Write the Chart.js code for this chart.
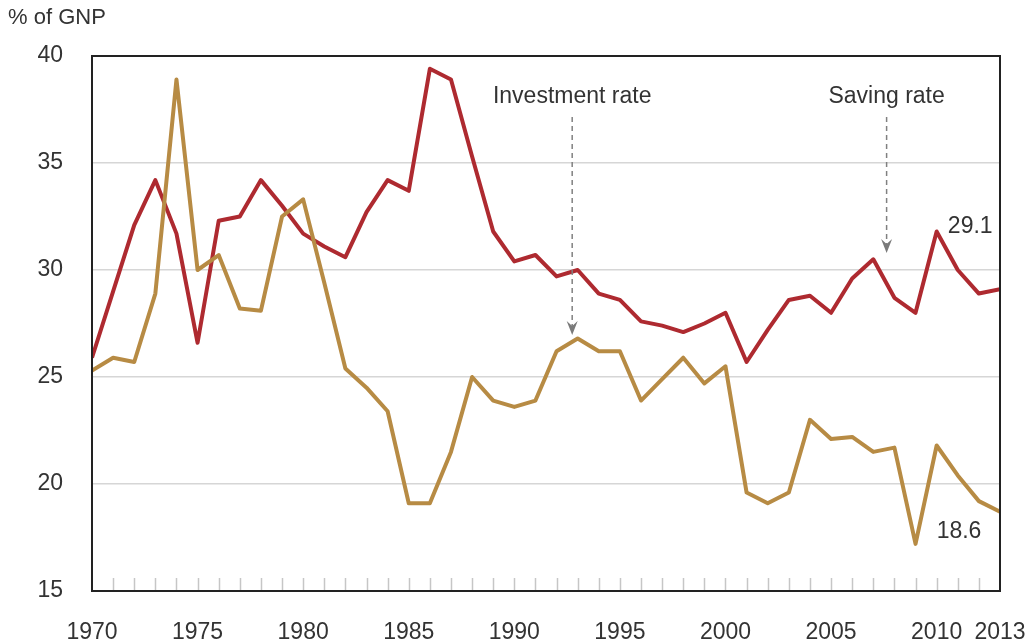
<!DOCTYPE html>
<html>
<head>
<meta charset="utf-8">
<script src="https://cdn.jsdelivr.net/npm/chart.js@4.4.1/dist/chart.umd.min.js"></script>
<style>
  html, body { margin: 0; padding: 0; background: #fff; }
  #wrap { width: 1029px; height: 643px; position: relative; }
</style>
</head>
<body>
<div id="wrap"><canvas id="chart" width="1029" height="643"></canvas></div>
<script>
const years = [1970, 1971, 1972, 1973, 1974, 1975, 1976, 1977, 1978, 1979,
               1980, 1981, 1982, 1983, 1984, 1985, 1986, 1987, 1988, 1989,
               1990, 1991, 1992, 1993, 1994, 1995, 1996, 1997, 1998, 1999,
               2000, 2001, 2002, 2003, 2004, 2005, 2006, 2007, 2008, 2009,
               2010, 2011, 2012, 2013];

// saving rate (red)
const savingRate = [25.9, 29.0, 32.1, 34.2, 31.7, 26.6, 32.3, 32.5, 34.2, 33.0,
                    31.7, 31.1, 30.6, 32.7, 34.2, 33.7, 39.4, 38.9, 35.3, 31.8,
                    30.4, 30.7, 29.7, 30.0, 28.9, 28.6, 27.6, 27.4, 27.1, 27.5,
                    28.0, 25.7, 27.2, 28.6, 28.8, 28.0, 29.6, 30.5, 28.7, 28.0,
                    31.8, 30.0, 28.9, 29.1];

// investment rate (gold)
const investmentRate = [25.3, 25.9, 25.7, 28.9, 38.9, 30.0, 30.7, 28.2, 28.1, 32.5,
                        33.3, 29.4, 25.4, 24.5, 23.4, 19.1, 19.1, 21.5, 25.0, 23.9,
                        23.6, 23.9, 26.2, 26.8, 26.2, 26.2, 23.9, 24.9, 25.9, 24.7,
                        25.5, 19.6, 19.1, 19.6, 23.0, 22.1, 22.2, 21.5, 21.7, 17.2,
                        21.8, 20.4, 19.2, 18.7];

const xTickLabels = [1970, 1975, 1980, 1985, 1990, 1995, 2000, 2005, 2010, 2013];
const yTickLabels = [15, 20, 25, 30, 35, 40];

// callouts, placed in data units
const callouts = [
  { text: 'Investment rate', x: 1992.74, textY: 37.8, fromY: 37.15, toY: 26.96 },
  { text: 'Saving rate', x: 2007.63, textY: 37.8, fromY: 37.15, toY: 30.8 }
];
const endLabels = [
  { text: '29.1', x: 2010.53, y: 31.73 },
  { text: '18.6', x: 2010.0, y: 17.48 }
];

const FONT = "'Liberation Sans', Arial, sans-serif";
const TEXT = '#333';

const toPoints = vals => vals.map((v, i) => ({ x: years[i], y: v }));

const decorations = {
  id: 'decorations',
  beforeDatasetsDraw(chart) {
    const { ctx, chartArea: a, scales: { x } } = chart;
    // small year ticks along the bottom
    ctx.save();
    ctx.strokeStyle = '#c6c6c6';
    ctx.lineWidth = 1.5;
    years.slice(1, -1).forEach(yr => {
      const px = Math.round(x.getPixelForValue(yr)) + 0.5;
      ctx.beginPath();
      ctx.moveTo(px, a.bottom);
      ctx.lineTo(px, a.bottom - 13);
      ctx.stroke();
    });
    ctx.restore();
  },
  afterDatasetsDraw(chart) {
    const { ctx, chartArea: a, scales: { x, y } } = chart;
    ctx.save();
    // frame
    ctx.strokeStyle = '#222';
    ctx.lineWidth = 2;
    ctx.strokeRect(a.left, a.top, a.right - a.left, a.bottom - a.top);

    ctx.font = '23px ' + FONT;
    ctx.fillStyle = TEXT;
    ctx.textBaseline = 'alphabetic';

    callouts.forEach(c => {
      const px = x.getPixelForValue(c.x);
      ctx.textAlign = 'center';
      ctx.fillStyle = TEXT;
      ctx.fillText(c.text, px, y.getPixelForValue(c.textY));

      const top = y.getPixelForValue(c.fromY);
      const tip = y.getPixelForValue(c.toY);
      ctx.strokeStyle = '#808080';
      ctx.lineWidth = 1.5;
      ctx.setLineDash([5, 4]);
      ctx.beginPath();
      ctx.moveTo(px, top);
      ctx.lineTo(px, tip - 8);
      ctx.stroke();
      ctx.setLineDash([]);
      ctx.fillStyle = '#7a7a7a';
      ctx.beginPath();
      ctx.moveTo(px - 5.5, tip - 14);
      ctx.lineTo(px, tip);
      ctx.lineTo(px + 5.5, tip - 14);
      ctx.lineTo(px, tip - 9);
      ctx.closePath();
      ctx.fill();
    });

    ctx.fillStyle = TEXT;
    ctx.textAlign = 'left';
    endLabels.forEach(l => {
      ctx.fillText(l.text, x.getPixelForValue(l.x), y.getPixelForValue(l.y));
    });

    ctx.font = '22px ' + FONT;
    ctx.fillText('% of GNP', 8, 24);
    ctx.restore();
  }
};

new Chart(document.getElementById('chart'), {
  type: 'line',
  data: {
    datasets: [{
      label: 'Investment rate',
      data: toPoints(investmentRate),
      borderColor: '#b78b44',
      borderWidth: 4,
      borderJoinStyle: 'round',
      pointRadius: 0,
      tension: 0
    }, {
      label: 'Saving rate',
      data: toPoints(savingRate),
      borderColor: '#ae2a30',
      borderWidth: 4,
      borderJoinStyle: 'round',
      pointRadius: 0,
      tension: 0
    }]
  },
  options: {
    responsive: false,
    animation: false,
    layout: { padding: { top: 56, right: 29, left: 0, bottom: 0 } },
    scales: {
      x: {
        type: 'linear',
        min: 1970,
        max: 2013,
        afterBuildTicks: s => { s.ticks = xTickLabels.map(v => ({ value: v })); },
        afterFit: s => { s.height = 52; s.paddingLeft = 0; s.paddingRight = 0; },
        grid: { display: false },
        border: { display: false },
        ticks: {
          padding: 20,
          autoSkip: false,
          maxRotation: 0,
          color: TEXT,
          font: { family: FONT, size: 23 },
          callback: v => String(v)
        }
      },
      y: {
        min: 15,
        max: 40,
        afterBuildTicks: s => { s.ticks = yTickLabels.map(v => ({ value: v })); },
        afterFit: s => { s.width = 92; s.paddingTop = 0; s.paddingBottom = 0; },
        grid: { color: '#d6d6d6', lineWidth: 1.5, drawTicks: false },
        border: { display: false },
        ticks: {
          padding: 29,
          color: TEXT,
          font: { family: FONT, size: 23 }
        }
      }
    },
    plugins: {
      legend: { display: false },
      tooltip: { enabled: false }
    }
  },
  plugins: [decorations]
});
</script>
</body>
</html>
